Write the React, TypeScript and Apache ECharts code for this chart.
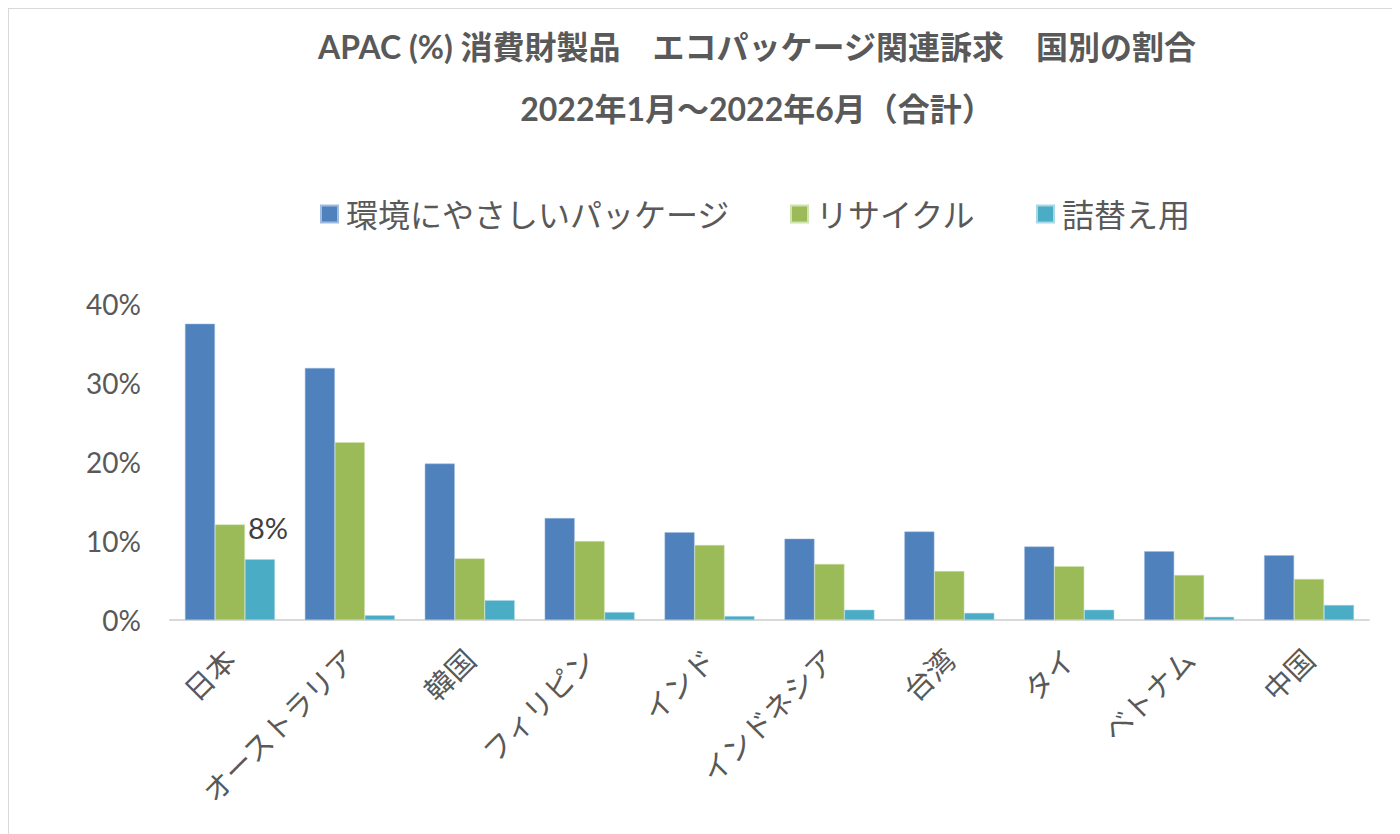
import React, { useEffect, useRef } from "react";
import * as echarts from "echarts";

const titleLine1 = "APAC (%) 消費財製品　エコパッケージ関連訴求　国別の割合";
const titleLine2 = "2022年1月～2022年6月（合計）";
const categories = ["日本", "オーストラリア", "韓国", "フィリピン", "インド", "インドネシア", "台湾", "タイ", "ベトナム", "中国"];
const seriesNames = ["環境にやさしいパッケージ", "リサイクル", "詰替え用"];
const ecoPackage = [37.5, 31.9, 19.8, 12.9, 11.1, 10.3, 11.2, 9.3, 8.7, 8.2];
const recycle = [12.1, 22.5, 7.8, 10.0, 9.5, 7.1, 6.2, 6.8, 5.7, 5.2];
const refill = [7.7, 0.6, 2.5, 1.0, 0.5, 1.3, 0.9, 1.3, 0.4, 1.9];
const labeledIndex = 0; // only Japan's refill bar carries a data label
const yTicks = { min: 0, max: 40, interval: 10 };
const colors = ["#4f81bd", "#9bbb59", "#4bacc6"];

const FONT = "Lato, 'Noto Sans CJK JP', 'Noto Sans', sans-serif";
const TEXT = "#595959";

export default function App() {
  const ref = useRef<HTMLDivElement>(null);
  useEffect(() => {
    if (!ref.current) return;
    const chart = echarts.init(ref.current, null, { renderer: "svg" });
    const refillData = refill.map((v, i) =>
      i === labeledIndex
        ? {
            value: v,
            label: {
              show: true,
              position: "top",
              offset: [8, -12],
              formatter: (p: any) => Math.round(p.value) + "%",
              color: "#404040",
              fontSize: 29,
              fontFamily: FONT,
            },
          }
        : v
    );
    chart.setOption({
      animation: false,
      backgroundColor: "#ffffff",
      textStyle: { fontFamily: FONT, color: TEXT },
      graphic: [
        {
          type: "text",
          x: 748,
          y: 21,
          style: {
            text: titleLine1,
            fontSize: 32,
            fontWeight: "bold",
            fontFamily: FONT,
            fill: TEXT,
            textAlign: "center",
          },
        },
        {
          type: "text",
          x: 748,
          y: 83,
          style: {
            text: titleLine2,
            fontSize: 32,
            fontWeight: "bold",
            fontFamily: FONT,
            fill: TEXT,
            textAlign: "center",
          },
        },
      ],
      legend: {
        data: seriesNames,
        top: 184,
        left: 306,
        itemWidth: 17,
        itemHeight: 17,
        itemGap: 60,
        icon: "rect",
        textStyle: { fontSize: 32, color: TEXT, fontFamily: FONT, padding: [0, 0, 0, 3] },
      },
      grid: { left: 161, right: 28, top: 295, bottom: 217 },
      xAxis: {
        type: "category",
        data: categories,
        axisLine: { lineStyle: { color: "#d9d9d9", width: 2 } },
        axisTick: { show: false },
        axisLabel: {
          rotate: 45,
          fontSize: 29,
          color: TEXT,
          fontFamily: FONT,
          margin: 34,
          interval: 0,
        },
      },
      yAxis: {
        type: "value",
        min: yTicks.min,
        max: yTicks.max,
        interval: yTicks.interval,
        splitLine: { show: false },
        axisLine: { show: false },
        axisTick: { show: false },
        axisLabel: {
          formatter: "{value}%",
          fontSize: 28,
          color: TEXT,
          fontFamily: FONT,
          margin: 29,
        },
      },
      series: [
        { name: seriesNames[0], type: "bar", data: ecoPackage, barGap: "0%", barCategoryGap: "25%", itemStyle: { color: colors[0], borderColor: "#9fbbe0", borderWidth: 0.5 } },
        { name: seriesNames[1], type: "bar", data: recycle, barGap: "0%", barCategoryGap: "25%", itemStyle: { color: colors[1], borderColor: "#d0e2b0", borderWidth: 0.5 } },
        { name: seriesNames[2], type: "bar", data: refillData, barGap: "0%", barCategoryGap: "25%", itemStyle: { color: colors[2], borderColor: "#a8d8e6", borderWidth: 0.5 } },
      ],
    });
    return () => chart.dispose();
  }, []);
  return (
    <div
      ref={ref}
      style={{
        width: 1390,
        height: 830,
        border: "1px solid #d9d9d9",
        boxSizing: "border-box",
        background: "#fff",
      }}
    />
  );
}
